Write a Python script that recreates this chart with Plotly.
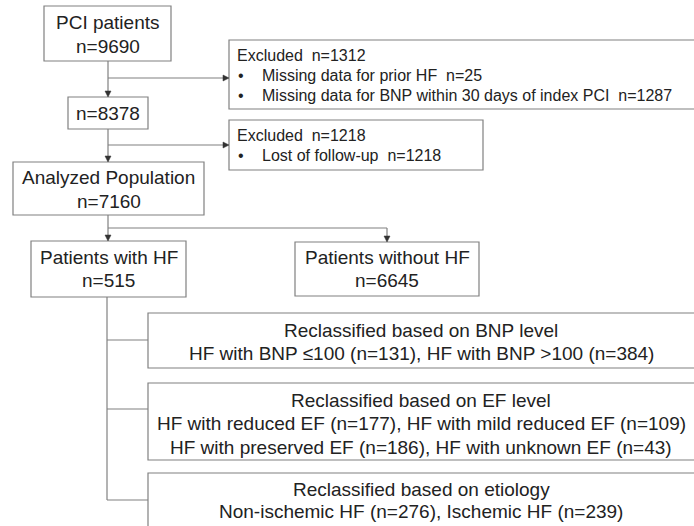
import plotly.graph_objects as go

# ---------------- data ----------------
main_titles = ["PCI patients", None, "Analyzed Population", "Patients with HF", "Patients without HF"]
main_counts = [9690, 8378, 7160, 515, 6645]

excl_totals = [1312, 1218]
excl_labels = [["Missing data for prior HF", "Missing data for BNP within 30 days of index PCI"],
               ["Lost of follow-up"]]
excl_counts = [[25, 1287], [1218]]

reclass_titles = ["Reclassified based on BNP level",
                  "Reclassified based on EF level",
                  "Reclassified based on etiology"]
reclass_labels = [["HF with BNP ≤100", "HF with BNP >100"],
                  ["HF with reduced EF", "HF with mild reduced EF", "HF with preserved EF", "HF with unknown EF"],
                  ["Non-ischemic HF", "Ischemic HF"]]
reclass_counts = [[131, 384], [177, 109, 186, 43], [276, 239]]

# ---------------- layout geometry (pixels) ----------------
W, H = 694, 526
FONT = "Arial, 'Liberation Sans', Helvetica, sans-serif"
TXT = "#222222"
LN = "#808080"
ARR = "#333333"
FS_MAIN = 19
FS_EXCL = 16

main_boxes = [(44, 6, 171, 61), (68, 97, 148, 129), (13, 162, 204, 215),
              (31, 241, 186, 297), (295, 242, 479, 296)]
main_line_y = [[22, 46], [113], [177, 201], [257, 280], [257, 280]]

excl_boxes = [(229, 40, 700, 109), (229, 120, 483, 170)]
excl_line_y = [[55, 75, 95], [135, 155]]
excl_x_head, excl_x_bullet, excl_x_item = 237, 238, 262

reclass_boxes = [(148, 313, 700, 368), (148, 383, 700, 460), (148, 473, 700, 560)]
reclass_line_y = [[330, 353], [400, 423, 447], [489, 511]]
reclass_rows = [[2], [2, 2], [2]]

fig = go.Figure()
shapes = []
annots = []


def rect(b):
    shapes.append(dict(type="rect", xref="x", yref="y", x0=b[0], y0=b[1], x1=b[2], y1=b[3],
                       line=dict(color=LN, width=1.2), fillcolor="white", layer="below"))


def seg(x0, y0, x1, y1):
    shapes.append(dict(type="line", xref="x", yref="y", x0=x0, y0=y0, x1=x1, y1=y1,
                       line=dict(color=LN, width=1.2), layer="below"))


def arrow(x, y, d):
    if d == "down":
        p = f"M {x-3},{y-6} L {x+3},{y-6} L {x},{y} Z"
    else:
        p = f"M {x-6},{y-3} L {x-6},{y+3} L {x},{y} Z"
    shapes.append(dict(type="path", xref="x", yref="y", path=p,
                       fillcolor=ARR, line=dict(color=ARR, width=0.5), layer="above"))


def text(x, y, s, size, anchor="center"):
    annots.append(dict(x=x, y=y, xref="x", yref="y", text=s, showarrow=False,
                       xanchor=anchor, yanchor="middle", borderpad=0, borderwidth=0,
                       font=dict(family=FONT, size=size, color=TXT)))


# main boxes
for b, t, n, ys in zip(main_boxes, main_titles, main_counts, main_line_y):
    rect(b)
    cx = (b[0] + b[2]) / 2
    lines = ([t] if t else []) + [f"n={n}"]
    for s, y in zip(lines, ys):
        text(cx, y, s, FS_MAIN)

# excluded boxes
for b, tot, labs, cnts, ys in zip(excl_boxes, excl_totals, excl_labels, excl_counts, excl_line_y):
    rect(b)
    text(excl_x_head, ys[0], f"Excluded\u00a0 n={tot}", FS_EXCL, "left")
    for lab, c, y in zip(labs, cnts, ys[1:]):
        text(excl_x_bullet, y, "•", FS_EXCL, "left")
        text(excl_x_item, y, f"{lab}\u00a0 n={c}", FS_EXCL, "left")

# reclassified boxes
for b, t, labs, cnts, rows, ys in zip(reclass_boxes, reclass_titles, reclass_labels,
                                       reclass_counts, reclass_rows, reclass_line_y):
    rect(b)
    cx = 421
    text(cx, ys[0], t, FS_MAIN)
    items = [f"{l} (n={c})" for l, c in zip(labs, cnts)]
    k = 0
    for r, y in zip(rows, ys[1:]):
        text(cx, y, ", ".join(items[k:k + r]), FS_MAIN)
        k += r

# connectors
vx = 108
seg(vx, 61, vx, 91); arrow(vx, 97, "down")
seg(vx, 78, 223, 78); arrow(229, 78, "right")
seg(vx, 129, vx, 156); arrow(vx, 162, "down")
seg(vx, 145, 223, 145); arrow(229, 145, "right")
seg(vx, 215, vx, 235); arrow(vx, 241, "down")
seg(vx, 228, 387, 228); seg(387, 228, 387, 236); arrow(387, 242, "down")
seg(107, 297, 107, 500)
for y in (340, 409, 500):
    seg(107, y, 148, y)

fig.update_layout(
    width=W, height=H, margin=dict(l=0, r=0, t=0, b=0),
    paper_bgcolor="white", plot_bgcolor="white",
    xaxis=dict(range=[0, W], visible=False, fixedrange=True),
    yaxis=dict(range=[H, 0], visible=False, fixedrange=True),
    shapes=shapes, annotations=annots, showlegend=False,
)
fig.write_html("out.html", config={"displayModeBar": False},
               post_script="document.body.style.margin='0';document.body.style.overflow='hidden';")
